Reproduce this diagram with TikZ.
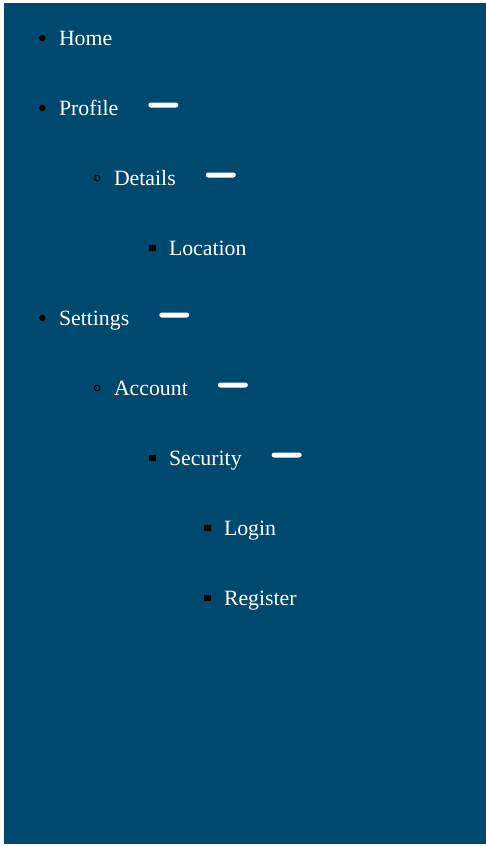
\documentclass[tikz,border=0pt]{standalone}
\usepackage{fontspec}
\setmainfont{Liberation Serif}
\usetikzlibrary{positioning}
\definecolor{navbg}{RGB}{0,73,110}

\begin{document}
\begin{tikzpicture}[x=1pt,y=-1pt,
	every node/.style={inner sep=0pt,outer sep=0pt},
	item/.style={anchor=base west,text=white,font=\fontsize{21.8}{24}\selectfont},
	disc/.style={circle,fill=black,minimum size=6.4pt},
	ring/.style={circle,draw=black,line width=1pt,minimum size=5.6pt},
	blob/.style={rectangle,fill=black,minimum size=6.6pt},
	dashbar/.style={rectangle,rounded corners=2.5pt,fill=white,
		minimum width=30pt,minimum height=5pt,anchor=west}]
	
	\useasboundingbox (0,0) rectangle (486,846);
	\fill[navbg] (4,3) rectangle (486,844); %page background
	
	%menu entries: bullet style / level / row / name / text
	\foreach \bul/\lvl/\row/\name/\txt in {
		disc/0/0/home/Home,
		disc/0/1/profile/Profile,
		ring/1/2/details/Details,
		blob/2/3/location/Location,
		disc/0/4/settings/Settings,
		ring/1/5/account/Account,
		blob/2/6/security/Security,
		blob/3/7/login/Login,
		blob/3/8/register/Register}{
		\pgfmathsetmacro\yc{38+70*\row}
		\pgfmathsetmacro\bx{42.3+55*\lvl}
		\pgfmathsetmacro\tx{59+55*\lvl}
		\node[\bul] (\name-b) at (\bx,\yc) {};
		\node[item] (\name) at (\tx,\yc+7) {\txt};
	}
	
	%toggle bars after the entries that open a submenu
	\node[dashbar] (profile-d) at ([xshift=30pt,yshift=10pt]profile.base east) {};
	\node[dashbar] (details-d) at ([xshift=30pt,yshift=10pt]details.base east) {};
	\node[dashbar] (settings-d) at ([xshift=30pt,yshift=10pt]settings.base east) {};
	\node[dashbar] (account-d) at ([xshift=30pt,yshift=10pt]account.base east) {};
	\node[dashbar] (security-d) at ([xshift=30pt,yshift=10pt]security.base east) {};
	
\end{tikzpicture}
\end{document}
